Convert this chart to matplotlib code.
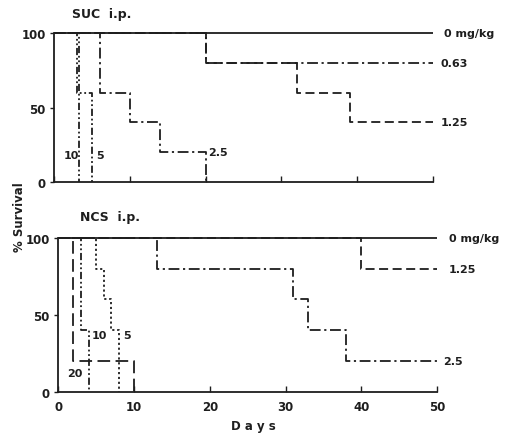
import matplotlib.pyplot as plt

# SUC i.p. survival curves (days, % survival)
suc_0_days = [0, 50]
suc_0 = [100, 100]
suc_063_days = [0, 20, 50]
suc_063 = [100, 80, 80]
suc_125_days = [0, 20, 32, 39, 50]
suc_125 = [100, 80, 60, 40, 40]
suc_25_days = [0, 6, 10, 14, 20]
suc_25 = [100, 60, 40, 20, 0]
suc_5_days = [0, 3, 5]
suc_5 = [100, 60, 0]
suc_10_days = [0, 3.3]
suc_10 = [100, 0]

# NCS i.p.
ncs_0_days = [0, 50]
ncs_0 = [100, 100]
ncs_125_days = [0, 40, 50]
ncs_125 = [100, 80, 80]
ncs_25_days = [0, 13, 31, 33, 38, 50]
ncs_25 = [100, 80, 60, 40, 20, 20]
ncs_5_days = [0, 5, 6, 7, 8]
ncs_5 = [100, 80, 60, 40, 0]
ncs_10_days = [0, 3, 4]
ncs_10 = [100, 40, 0]
ncs_20_days = [0, 2, 10]
ncs_20 = [100, 20, 0]

ink = '#1e1e1e'
lw = 1.3
solid = '-'
dashed = (0, (5, 2.5))
dashdot = (0, (6, 2, 1.2, 2))
dashdot2 = (0, (4, 1.5, 1, 1.5, 1, 1.5))
dotted = (0, (1.2, 1.5))
longdash = (0, (7, 3))

plt.rcParams['font.family'] = 'DejaVu Sans'
fig = plt.figure(figsize=(5.15, 4.35), dpi=100)
ax1 = fig.add_axes([0.105, 0.579, 0.736, 0.343])
ax2 = fig.add_axes([0.113, 0.097, 0.736, 0.354])


def step(ax, x, y, ls):
    ax.plot(x, y, drawstyle='steps-post', color=ink, lw=lw, linestyle=ls,
            clip_on=False, solid_capstyle='butt', dash_capstyle='butt')


step(ax1, suc_0_days, suc_0, solid)
step(ax1, suc_063_days, suc_063, dashdot)
step(ax1, suc_125_days, suc_125, dashed)
step(ax1, suc_25_days, suc_25, dashdot)
step(ax1, suc_5_days, suc_5, dashdot2)
step(ax1, suc_10_days, suc_10, dashdot2)

step(ax2, ncs_0_days, ncs_0, solid)
step(ax2, ncs_125_days, ncs_125, dashed)
step(ax2, ncs_25_days, ncs_25, dashdot)
step(ax2, ncs_5_days, ncs_5, dotted)
step(ax2, ncs_10_days, ncs_10, dashdot2)
step(ax2, ncs_20_days, ncs_20, longdash)

for ax in (ax1, ax2):
    ax.set_xlim(0, 50)
    ax.set_ylim(0, 100)
    ax.spines['top'].set_visible(False)
    ax.spines['right'].set_visible(False)
    for s in ('left', 'bottom'):
        ax.spines[s].set_color(ink)
        ax.spines[s].set_linewidth(1.3)
    ax.set_yticks([0, 50, 100])
    ax.set_xticks([0, 10, 20, 30, 40, 50])
    ax.tick_params(axis='x', direction='in', length=4, width=1, colors=ink,
                   labelsize=8.5, pad=6)
    ax.tick_params(axis='y', direction='out', length=3, width=1, colors=ink,
                   labelsize=8.5, pad=3)
    for t in ax.get_xticklabels() + ax.get_yticklabels():
        t.set_fontweight('bold')

ax1.set_xticklabels([])

tkw = dict(color=ink, fontsize=9, fontweight='bold', va='center')
ax1.text(0.048, 1.128, 'SUC  i.p.', transform=ax1.transAxes, **tkw)
ax2.text(0.058, 1.136, 'NCS  i.p.', transform=ax2.transAxes, **tkw)

# curve labels
lkw = dict(color=ink, fontsize=8, fontweight='bold', va='center')
ax1.text(51.5, 100, '0 mg/kg', **lkw)
ax1.text(51.0, 80, '0.63', **lkw)
ax1.text(51.0, 40, '1.25', **lkw)
ax1.text(20.3, 20, '2.5', **lkw)
ax1.text(1.3, 18, '10', **lkw)
ax1.text(5.6, 18, '5', **lkw)

ax2.text(51.5, 100, '0 mg/kg', **lkw)
ax2.text(51.5, 80, '1.25', **lkw)
ax2.text(50.8, 20, '2.5', **lkw)
ax2.text(8.6, 37, '5', **lkw)
ax2.text(4.4, 37, '10', **lkw)
ax2.text(1.2, 12, '20', **lkw)

fig.text(0.037, 0.50, '% Survival', rotation=90, ha='center', va='center',
         color=ink, fontsize=8.5, fontweight='bold')
fig.text(0.492, 0.02, 'D a y s', ha='center', va='center',
         color=ink, fontsize=8.5, fontweight='bold')

fig.savefig('out.png', dpi=100, facecolor='white')
